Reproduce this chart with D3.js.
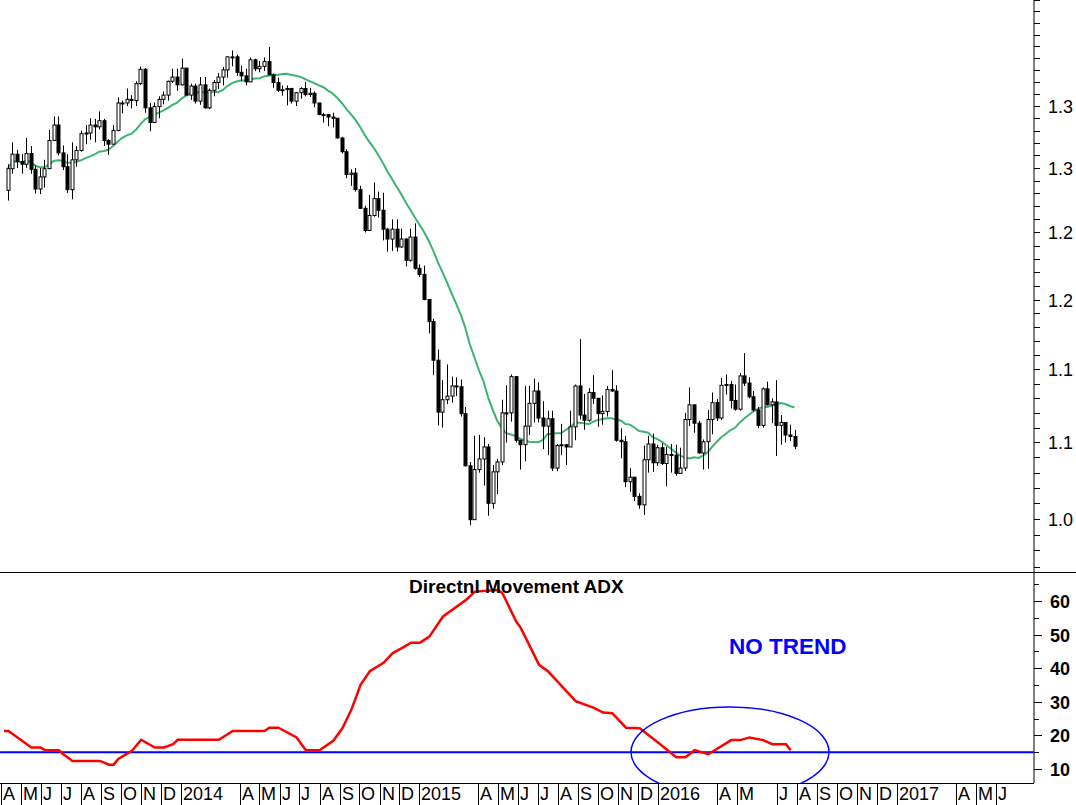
<!DOCTYPE html>
<html><head><meta charset="utf-8">
<script src="https://cdn.jsdelivr.net/npm/d3@7"></script>
<style>body{margin:0;background:#fff}svg{display:block}text{font-family:"Liberation Sans",Arial,sans-serif}</style>
</head><body><svg id="c" width="1076" height="805"></svg>
<script>
const firstWeek = "2013-04-05";
const firstOpen = 1.2825;
const closes = [1.2995,1.3110,1.3050,1.3030,1.3115,1.2990,1.2835,1.2930,1.2995,1.3220,1.3345,1.3120,1.3010,1.2830,1.3065,1.3140,1.3275,1.3280,1.3345,1.3330,1.3380,1.3220,1.3190,1.3300,1.3525,1.3525,1.3555,1.3545,1.3685,1.3805,1.3485,1.3365,1.3495,1.3555,1.3590,1.3705,1.3740,1.3675,1.3815,
1.3590,1.3665,1.3540,1.3675,1.3485,1.3630,1.3695,1.3740,1.3800,1.3910,1.3910,1.3780,1.3750,1.3700,1.3885,1.3810,1.3830,1.3870,1.3760,1.3695,1.3630,1.3635,1.3645,1.3540,1.3610,1.3645,1.3595,1.3605,1.3525,1.3430,1.3430,1.3410,1.3400,1.3240,1.3130,1.2950,1.2960,1.2830,1.2685,1.2515,1.2630,1.2760,1.2670,1.2525,1.2450,1.2525,1.2390,1.2450,1.2290,1.2465,1.2230,1.2185,
1.2000,1.1840,1.1565,1.1205,1.1290,1.1315,1.1385,1.1380,1.1195,1.0845,1.0495,1.0820,1.0890,1.0970,1.0600,1.0805,1.0870,1.1200,1.1200,1.1450,1.1015,1.0985,1.1110,1.1265,1.1350,1.1165,1.1110,1.1160,1.0830,1.0980,1.0985,1.0970,1.1105,1.1385,1.1185,1.1150,1.1340,1.1300,1.1195,1.1210,1.1360,1.1350,1.1015,1.1005,1.0740,1.0770,1.0645,1.0590,1.0885,1.0990,1.0865,1.0965,
1.0860,1.0920,1.0915,1.0795,1.0830,1.1155,1.1255,1.1130,1.0930,1.1005,1.1155,1.1270,1.1165,1.1390,1.1395,1.1285,1.1225,1.1455,1.1405,1.1310,1.1220,1.1115,1.1365,1.1255,1.1275,1.1115,1.1135,1.1050,1.1040,1.0975];
const highs = [1.3030,1.3205,1.3145,1.3110,1.3240,1.3175,1.3020,1.3000,1.3065,1.3305,1.3415,1.3415,1.3180,1.3110,1.3205,1.3175,1.3300,1.3345,1.3400,1.3395,1.3455,1.3395,1.3230,1.3345,1.3570,1.3545,1.3645,1.3590,1.3705,1.3830,1.3815,1.3525,1.3530,1.3580,1.3620,1.3710,1.3810,1.3810,1.3895,
1.3800,1.3685,1.3685,1.3740,1.3740,1.3645,1.3715,1.3775,1.3825,1.3915,1.3965,1.3930,1.3835,1.3810,1.3905,1.3895,1.3875,1.3905,1.3995,1.3770,1.3735,1.3670,1.3670,1.3650,1.3615,1.3655,1.3700,1.3650,1.3620,1.3525,1.3445,1.3435,1.3445,1.3380,1.3250,1.3150,1.2990,1.3000,1.2860,1.2705,1.2790,1.2885,1.2815,1.2805,1.2535,1.2600,1.2600,1.2530,1.2455,1.2530,1.2570,1.2260,
1.2250,1.1970,1.1860,1.1640,1.1425,1.1535,1.1450,1.1445,1.1430,1.1240,1.0870,1.1045,1.1050,1.1035,1.0990,1.0850,1.0890,1.1290,1.1390,1.1465,1.1445,1.1000,1.1385,1.1385,1.1435,1.1410,1.1280,1.1215,1.1215,1.0990,1.1125,1.0990,1.1215,1.1395,1.1715,1.1330,1.1370,1.1460,1.1300,1.1320,1.1385,1.1495,1.1390,1.1095,1.1045,1.0830,1.0740,1.0665,1.0980,1.1045,1.1060,1.0985,
1.0995,1.0970,1.0990,1.0985,1.0965,1.1200,1.1375,1.1255,1.1145,1.1020,1.1220,1.1340,1.1295,1.1440,1.1465,1.1420,1.1395,1.1475,1.1615,1.1445,1.1350,1.1240,1.1375,1.1415,1.1300,1.1425,1.1185,1.1120,1.1120,1.1085];
const lows = [1.2745,1.2955,1.3000,1.2955,1.3000,1.2955,1.2800,1.2795,1.2845,1.2995,1.3215,1.3100,1.2985,1.2805,1.2755,1.3010,1.3130,1.3190,1.3225,1.3205,1.3310,1.3175,1.3105,1.3220,1.3295,1.3440,1.3500,1.3480,1.3500,1.3675,1.3445,1.3295,1.3360,1.3400,1.3515,1.3545,1.3690,1.3625,1.3670,
1.3590,1.3550,1.3520,1.3510,1.3480,1.3475,1.3580,1.3640,1.3670,1.3735,1.3830,1.3750,1.3705,1.3670,1.3705,1.3790,1.3780,1.3790,1.3755,1.3650,1.3615,1.3585,1.3505,1.3520,1.3500,1.3560,1.3580,1.3575,1.3490,1.3425,1.3365,1.3335,1.3325,1.3235,1.3115,1.2920,1.2860,1.2815,1.2680,1.2500,1.2570,1.2620,1.2615,1.2440,1.2355,1.2360,1.2355,1.2385,1.2245,1.2280,1.2220,1.2165,
1.1995,1.1755,1.1460,1.1115,1.1100,1.1260,1.1270,1.1315,1.1175,1.0840,1.0460,1.0500,1.0800,1.0715,1.0520,1.0565,1.0660,1.0850,1.1000,1.1140,1.1000,1.0820,1.0875,1.1050,1.1135,1.1135,1.0955,1.0915,1.0810,1.0810,1.0915,1.0850,1.0970,1.1015,1.1155,1.1085,1.1140,1.1260,1.1105,1.1120,1.1175,1.1345,1.1005,1.0895,1.0705,1.0675,1.0615,1.0565,1.0525,1.0800,1.0805,1.0845,
1.0850,1.0710,1.0800,1.0780,1.0810,1.0810,1.1110,1.1065,1.0925,1.0820,1.0825,1.1055,1.1145,1.1150,1.1325,1.1230,1.1215,1.1215,1.1385,1.1300,1.1210,1.1095,1.1100,1.1250,1.1130,1.0910,1.0985,1.1000,1.1010,1.0955];
const maWeeks = 17;
const adxWeekIdx = [0,1,6,8,9,12,13,15,21,23,24,25,28,30,33,35,37,38,47,50,57,58,60,64,66,69,72,74,76,78,80,83,85,87,89,91,93,96,101,103,108,109,112,113,117,119,121,125,129,131,133,136,139,143,147,149,151,154,159,161,163,166,168,171,172];
const adxValues = [21.3,21.3,16.4,16.4,15.6,15.6,14.4,12.4,12.4,11.3,11.3,13,15.4,18.7,16.4,16.4,17.4,18.7,18.7,21.3,21.3,22.3,22.3,19.4,15.6,15.6,18.4,22.1,27.8,35.1,39.1,41.6,44.5,46,47.6,47.6,49.4,55.4,60.3,62.8,63.3,62.3,53.9,52,41,39,36.1,30.2,28.2,26.8,26.6,22.3,22.1,17.9,13.5,13.5,15.6,14.4,18.6,18.6,19.4,18.6,17.4,17.4,15.6];
const priceTickLabels = [[1.35,"1.3"],[1.30,"1.3"],[1.25,"1.2"],[1.20,"1.2"],[1.15,"1.1"],[1.10,"1.1"],[1.05,"1.0"]];
const adxTicks = [10,20,30,40,50,60];
const adxLevel = 15;
const monthLabels = [["2013-04-01","A"],["2013-05-01","M"],["2013-06-01","J"],["2013-07-01","J"],["2013-08-01","A"],["2013-09-01","S"],["2013-10-01","O"],["2013-11-01","N"],["2013-12-01","D"],["2014-01-01","2014"],
["2014-04-01","A"],["2014-05-01","M"],["2014-06-01","J"],["2014-07-01","J"],["2014-08-01","A"],["2014-09-01","S"],["2014-10-01","O"],["2014-11-01","N"],["2014-12-01","D"],["2015-01-01","2015"],
["2015-04-01","A"],["2015-05-01","M"],["2015-06-01","J"],["2015-07-01","J"],["2015-08-01","A"],["2015-09-01","S"],["2015-10-01","O"],["2015-11-01","N"],["2015-12-01","D"],["2016-01-01","2016"],
["2016-04-01","A"],["2016-05-01","M"],["2016-07-01","J"],["2016-08-01","A"],["2016-09-01","S"],["2016-10-01","O"],["2016-11-01","N"],["2016-12-01","D"],["2017-01-01","2017"],["2017-04-01","A"],["2017-05-01","M"],["2017-06-01","J"]];

const svg = d3.select("#c");
const W=1076, AX=1034, P1B=572, P2B=783;
const t0 = d3.timeParse("%Y-%m-%d");
const x = d3.scaleTime().domain([t0("2013-04-01"), t0("2016-01-01")]).range([1.3, 658]);
const y = d3.scaleLog().domain([1.0166, 1.440]).range([P1B, 0]);
const ya = d3.scaleLinear().domain([10, 60]).range([769, 601]);

const wk = d3.timeDay.offset;
const barShiftDays = 6;
const data = closes.map((c,i)=>({d: wk(t0(firstWeek), 7*i+barShiftDays), o: i===0?firstOpen:closes[i-1], h: highs[i], l: lows[i], c}));
data.forEach((e,i)=>{ const s=data.slice(Math.max(0,i-maWeeks+1), i+1); e.ma=d3.mean(s,v=>v.c); });

const g1 = svg.append("g");
g1.append("path").datum(data).attr("fill","none").attr("stroke","#3cb371").attr("stroke-width",2)
  .attr("d", d3.line().x(d=>x(d.d)).y(d=>y(d.ma)));
g1.selectAll("line.w").data(data).join("line")
  .attr("x1",d=>Math.round(x(d.d))+0.5).attr("x2",d=>Math.round(x(d.d))+0.5)
  .attr("y1",d=>y(d.h)).attr("y2",d=>y(d.l)).attr("stroke","#000").attr("stroke-width",1);
g1.selectAll("rect.b").data(data).join("rect")
  .attr("x",d=>Math.round(x(d.d))-1).attr("width",3)
  .attr("y",d=>y(Math.max(d.o,d.c))).attr("height",d=>Math.max(1,y(Math.min(d.o,d.c))-y(Math.max(d.o,d.c))))
  .attr("fill",d=>d.c>=d.o?"#fff":"#000").attr("stroke","#000").attr("stroke-width",1);

// price axis
svg.append("line").attr("x1",AX).attr("x2",AX).attr("y1",0).attr("y2",P2B).attr("stroke","#000");
const minor = d3.range(102,145).map(v=>v/100);
svg.selectAll("line.pm").data(minor).join("line").attr("x1",AX).attr("x2",AX+6)
  .attr("y1",d=>Math.round(y(d))+0.5).attr("y2",d=>Math.round(y(d))+0.5).attr("stroke","#000");
svg.selectAll("text.pl").data(priceTickLabels).join("text").attr("x",1048).attr("y",d=>y(d[0])+7)
  .attr("font-size",18).text(d=>d[1]);
svg.append("line").attr("x1",0).attr("x2",W).attr("y1",P1B+0.5).attr("y2",P1B+0.5).attr("stroke","#000");

// ADX panel
const adxData = adxWeekIdx.map((k,i)=>({d: wk(t0(firstWeek),7*k), v: adxValues[i]}));
svg.append("line").attr("x1",0).attr("x2",AX).attr("y1",ya(adxLevel)).attr("y2",ya(adxLevel)).attr("stroke","#0000ff").attr("stroke-width",2);
svg.append("path").datum(adxData).attr("fill","none").attr("stroke","#ff0000").attr("stroke-width",2.5)
  .attr("d", d3.line().x(d=>x(d.d)).y(d=>ya(d.v)));
svg.selectAll("line.am").data(d3.range(10,66,5)).join("line").attr("x1",AX).attr("x2",d=>AX+(d%10===0?8:5))
  .attr("y1",d=>Math.round(ya(d))+0.5).attr("y2",d=>Math.round(ya(d))+0.5).attr("stroke","#000");
svg.selectAll("text.al").data(adxTicks).join("text").attr("x",1050).attr("y",d=>ya(d)+7)
  .attr("font-size",18).attr("font-weight","bold").text(d=>d);
svg.append("text").attr("x",409).attr("y",593).attr("font-size",19).attr("font-weight","bold").text("Directnl Movement ADX");
svg.append("text").attr("x",729).attr("y",654).attr("font-size",22.5).attr("font-weight","bold").attr("fill","#0000ff").text("NO TREND");
svg.append("clipPath").attr("id","cp").append("rect").attr("x",0).attr("y",P1B).attr("width",AX).attr("height",P2B-P1B);
svg.append("ellipse").attr("clip-path","url(#cp)").attr("cx",730).attr("cy",752).attr("rx",99).attr("ry",45)
  .attr("fill","none").attr("stroke","#0000ff").attr("stroke-width",1.5);

// time axis
svg.append("line").attr("x1",0).attr("x2",AX).attr("y1",P2B+0.5).attr("y2",P2B+0.5).attr("stroke","#000");
const ml = svg.selectAll("g.m").data(monthLabels).join("g").attr("transform",d=>`translate(${Math.round(x(t0(d[0])))},0)`);
ml.append("line").attr("x1",0.5).attr("x2",0.5).attr("y1",P2B).attr("y2",805).attr("stroke","#000");
ml.append("text").attr("x",2).attr("y",800).attr("font-size",18).text(d=>d[1]);
</script></body></html>
